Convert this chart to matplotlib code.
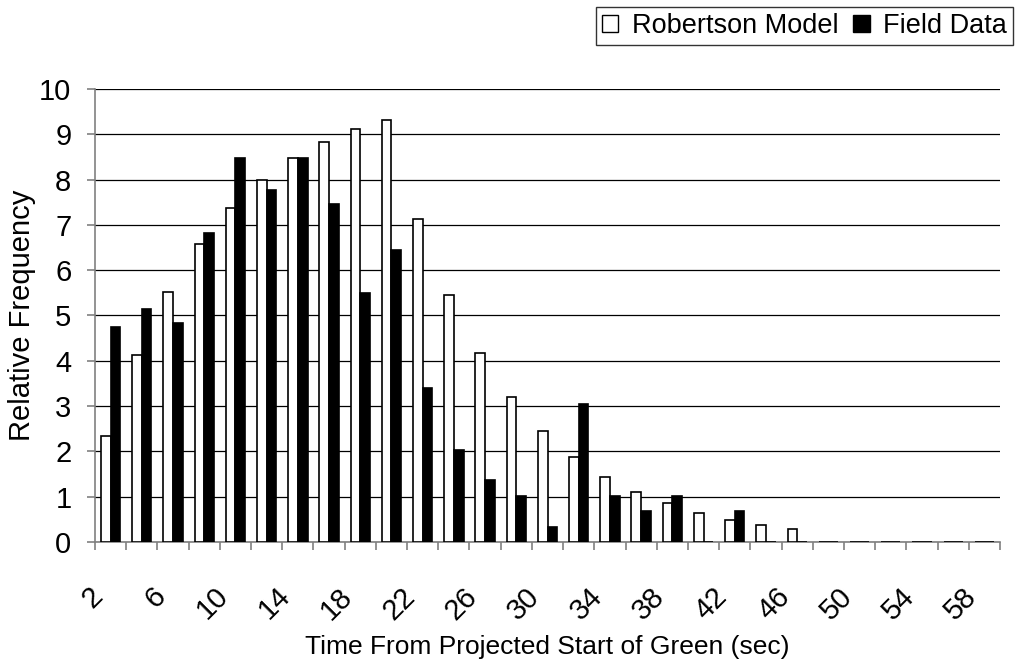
import matplotlib

matplotlib.use("Agg")
import matplotlib.pyplot as plt
import matplotlib.transforms as mtransforms
import numpy as np
from matplotlib.patches import Patch

plt.rcParams["font.family"] = ["Liberation Sans", "DejaVu Sans"]

# time bins (sec), every 2 s from 2 to 58
times = list(range(2, 60, 2))
robertson = [2.34, 4.13, 5.52, 6.57, 7.37, 7.99, 8.47, 8.83, 9.11, 9.32,
             7.13, 5.45, 4.18, 3.20, 2.46, 1.88, 1.44, 1.10, 0.85, 0.65,
             0.49, 0.375, 0.28, 0, 0, 0, 0, 0, 0]
field = [4.74, 5.14, 4.83, 6.83, 8.47, 7.78, 8.47, 7.45, 5.49, 6.44,
         3.40, 2.04, 1.36, 1.02, 0.34, 3.04, 1.02, 0.68, 1.02, 0,
         0.68, 0, 0, 0, 0, 0, 0, 0, 0]
shown_labels = [str(t) for t in times[::2]]

fig = plt.figure(figsize=(10.28, 6.63), dpi=100)
ax = fig.add_axes([0.0924, 0.1825, 0.8804, 0.6833])

x = np.arange(len(times))
w = 0.31
ax.bar(x - w / 2, robertson, width=w, color="white", edgecolor="black",
       linewidth=1.2, zorder=3)
ax.bar(x + w / 2, field, width=w, color="black", edgecolor="black",
       linewidth=1.2, zorder=3)

ax.set_xlim(-0.5, len(times) - 0.5)
ax.set_ylim(0, 10)
ax.set_yticks(range(0, 11))
ax.yaxis.grid(True, color="black", linewidth=0.9, zorder=0)

# category boundary ticks
ax.set_xticks(np.arange(-0.5, len(times), 1), minor=True)
ax.tick_params(axis="x", which="minor", length=6, width=1.2, color="#808080",
               direction="out")
ax.set_xticks(x[::2])
ax.set_xticklabels(shown_labels, rotation=45, ha="right", va="center",
                   rotation_mode="anchor")
ax.tick_params(axis="x", which="major", length=0, pad=36, labelsize=21)
ax.tick_params(axis="y", length=6, width=1.2, color="#808080", labelsize=21,
               pad=11)
shift = mtransforms.ScaledTranslation(-12 / 100, 0, fig.dpi_scale_trans)
for lbl in ax.get_xticklabels():
    lbl.set_transform(lbl.get_transform() + shift)

for side in ("top", "right"):
    ax.spines[side].set_visible(False)
for side in ("left", "bottom"):
    ax.spines[side].set_color("#808080")
    ax.spines[side].set_linewidth(1.2)

ax.set_xlabel("Time From Projected Start of Green (sec)", fontsize=19,
              labelpad=7)
ax.set_ylabel("Relative Frequency", fontsize=21, labelpad=2)

handles = [Patch(facecolor="white", edgecolor="black", linewidth=1.0),
           Patch(facecolor="black", edgecolor="black", linewidth=1.0)]
leg = fig.legend(handles, ["Robertson Model", "Field Data"], ncol=2,
                 loc="upper right", bbox_to_anchor=(1013 / 1028, 1 - 7 / 663),
                 fontsize=19.5, frameon=True, fancybox=False,
                 handlelength=0.6, handleheight=0.6, handletextpad=0.5,
                 columnspacing=0.55, borderpad=0.22, borderaxespad=0)
leg.get_frame().set_edgecolor("black")
leg.get_frame().set_linewidth(1.0)

fig.savefig("out.png", dpi=100)
plt.close(fig)
